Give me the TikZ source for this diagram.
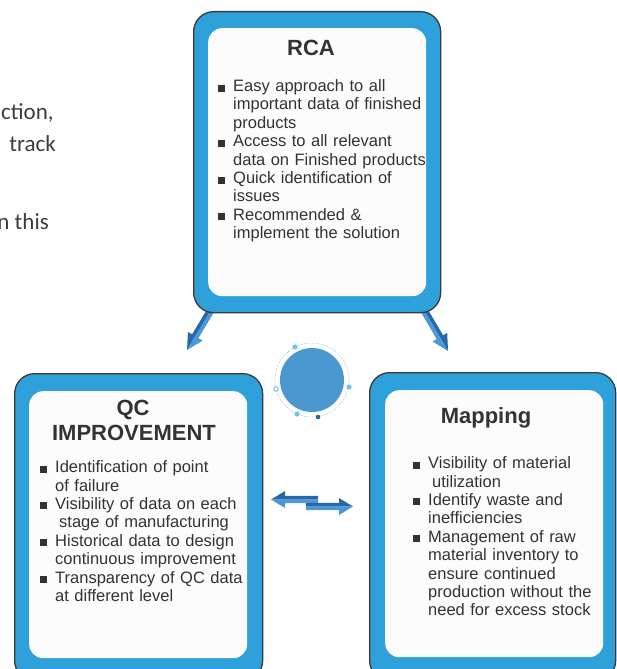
\documentclass[tikz,border=0pt]{standalone}
\usepackage{fontspec}
\setmainfont{Liberation Sans}
\newfontfamily\leadfont{Carlito}
\usetikzlibrary{calc}
\definecolor{boxblue}{HTML}{2EA0DA}
\definecolor{boxline}{HTML}{3A3A3A}
\definecolor{paper}{HTML}{FCFCFC}
\definecolor{inkgray}{HTML}{333333}
\definecolor{leadgray}{HTML}{3C3C3C}
\definecolor{arrowdark}{HTML}{2868A8}
\definecolor{arrowlight}{HTML}{4A98D6}
\definecolor{hubblue}{HTML}{4B97D0}
\definecolor{dotblue}{HTML}{72C2EC}
\newcommand{\sqitem}[1]{\par\noindent\hangindent=15pt\hangafter=1\makebox[15pt][l]{\rule{7pt}{7pt}}#1\par}
\newcommand{\halfarrow}[4]{%
  \coordinate (hb) at ($(#2)!#4!(#1)$);
  \fill[#3] (#1) -- ($(#1)!3.7pt!90:(#2)$) -- ($(hb)!3.7pt!90:(#2)$) -- ($(hb)!8.5pt!90:(#2)$) -- (#2) -- cycle;
}
\newcommand{\halfarrowr}[4]{%
  \coordinate (hb) at ($(#2)!#4!(#1)$);
  \fill[#3] (#1) -- ($(#1)!3.7pt!-90:(#2)$) -- ($(hb)!3.7pt!-90:(#2)$) -- ($(hb)!8.5pt!-90:(#2)$) -- (#2) -- cycle;
}
\tikzset{
  outerbox/.style={draw=boxline, line width=1.3pt, fill=boxblue, rounded corners=20pt, inner sep=0pt, anchor=north west},
  innerbox/.style={fill=paper, rounded corners=14pt, inner sep=0pt, anchor=north west},
  title/.style={text=inkgray, font=\fontsize{22}{25}\selectfont\bfseries, inner sep=0pt, anchor=base},
  points/.style={text=inkgray, font=\fontsize{16.5}{18.4}\selectfont, text width=#1, inner sep=0pt, anchor=north west},
  leadtext/.style={text=leadgray, font=\leadfont\fontsize{23}{26}\selectfont, inner sep=0pt, anchor=base east},
  smalldot/.style={fill=dotblue, draw=none},
}

\begin{document}
\begin{tikzpicture}[x=1pt,y=-1pt]
\useasboundingbox (0,0) rectangle (617,669);
\clip (0,0) rectangle (617,669);

\node[leadtext, anchor=base west] (lead1) at (1,119) {ction,};
\node[leadtext] (lead2) at (56,151) {track};
\node[leadtext] (lead3) at (49,229) {n this};

\coordinate (la1) at (214,305);
\coordinate (la2) at (187,350);
\coordinate (ra1) at (421,305);
\coordinate (ra2) at (448,351);
\halfarrowr{la1}{la2}{arrowdark}{16pt}
\halfarrow{la1}{la2}{arrowlight}{16pt}
\halfarrow{ra1}{ra2}{arrowdark}{16pt}
\halfarrowr{ra1}{ra2}{arrowlight}{16pt}

\node[outerbox, minimum width=247pt, minimum height=301pt] (rcaout) at (193,11) {};
\node[innerbox, minimum width=218pt, minimum height=268pt] (rcain) at (208,28) {};
\node[title] (rcatitle) at (311,56) {RCA};
\node[points=215pt] (rcalist) at (218,73) {%
\sqitem{Easy approach to all\newline important data of finished\newline products}
\sqitem{Access to all relevant\newline data on Finished products}
\sqitem{Quick identification of\newline issues}
\sqitem{Recommended \&\newline implement the solution}};

\node[outerbox, minimum width=248pt, minimum height=307pt] (qcout) at (14,373) {};
\node[innerbox, minimum width=218pt, minimum height=267pt] (qcin) at (29,391) {};
\node[title] (qctitle) at (133,415) {QC};
\node[title] (qctitle2) at (134,440) {IMPROVEMENT};
\node[points=215pt] (qclist) at (40,454) {%
\sqitem{Identification of point\newline of failure}
\sqitem{Visibility of data on each\newline \hspace*{4pt}stage of manufacturing}
\sqitem{Historical data to design\newline continuous improvement}
\sqitem{Transparency of QC data\newline at different level}};

\node[outerbox, minimum width=246pt, minimum height=308pt] (mapout) at (369,372) {};
\node[innerbox, minimum width=218pt, minimum height=267pt] (mapin) at (385,390) {};
\node[title] (maptitle) at (486,423) {Mapping};
\node[points=200pt] (maplist) at (413,450) {%
\sqitem{Visibility of material\newline \hspace*{4pt}utilization}
\sqitem{Identify waste and\newline inefficiencies}
\sqitem{Management of raw\newline material inventory to\newline ensure continued\newline production without the\newline need for excess stock}};

\node[circle, fill=hubblue, minimum size=64pt, inner sep=0pt] (hub) at (312,380) {};
\draw[dotblue, densely dotted, line width=0.6pt] (hub.center) circle (37pt);
\fill[smalldot] (295,347) circle (2.6pt);
\fill[smalldot] (349,387) circle (2.6pt);
\fill[smalldot] (297,414) circle (2.6pt);
\draw[dotblue, fill=white, line width=1pt] (276,389) circle (2.2pt);
\fill[arrowdark] (318,417) circle (2.3pt);

\coordinate (wa1) at (318,499.5);
\coordinate (wa2) at (271,499.5);
\coordinate (ea1) at (306,506.5);
\coordinate (ea2) at (353,506.5);
\halfarrowr{wa1}{wa2}{arrowdark}{14pt}
\halfarrow{wa1}{wa2}{arrowlight}{14pt}
\halfarrow{ea1}{ea2}{arrowdark}{14pt}
\halfarrowr{ea1}{ea2}{arrowlight}{14pt}
\end{tikzpicture}
\end{document}
